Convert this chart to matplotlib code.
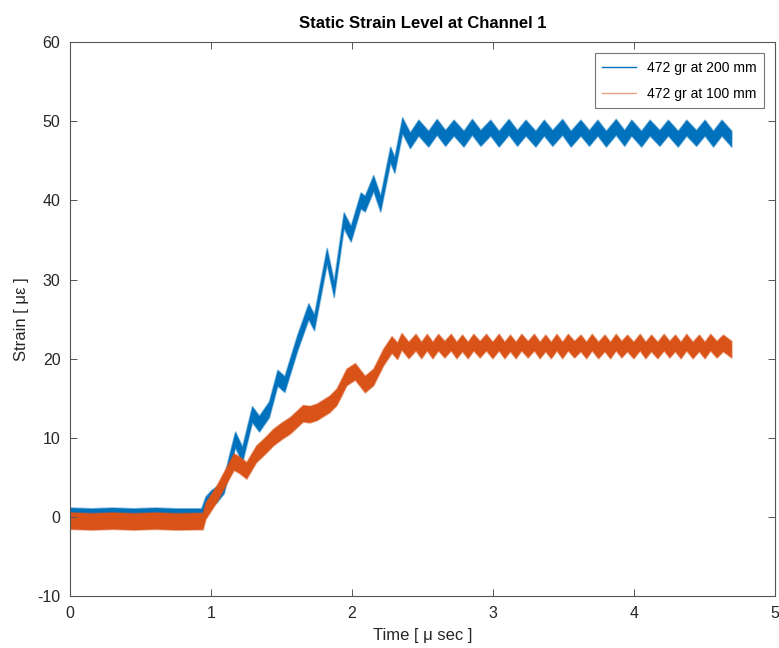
import matplotlib
matplotlib.use("Agg")
import matplotlib.pyplot as plt
from matplotlib.lines import Line2D
import numpy as np

plt.rcParams['font.family'] = ['Liberation Sans', 'DejaVu Sans']
plt.rcParams['axes.unicode_minus'] = False

# Strain traces (centre of the noisy signal) at the turning points, time in micro-seconds
t_200 = [0.00, 0.15, 0.30, 0.45, 0.60, 0.75, 0.93,
         0.96, 1.00, 1.04, 1.09, 1.13, 1.17, 1.22, 1.29, 1.34, 1.41, 1.47, 1.52, 1.61,
         1.69, 1.73, 1.82, 1.87, 1.94, 1.99, 2.06, 2.09, 2.15, 2.20, 2.27, 2.30, 2.355,
         2.41, 2.47, 2.54, 2.60, 2.66, 2.72, 2.79, 2.85, 2.91, 2.98, 3.04, 3.11, 3.17,
         3.23, 3.30, 3.36, 3.42, 3.49, 3.55, 3.62, 3.68, 3.74, 3.80, 3.87, 3.93, 3.98,
         4.05, 4.11, 4.18, 4.24, 4.31, 4.37, 4.44, 4.50, 4.56, 4.62, 4.69]
v_200 = [0.2, 0.1, 0.2, 0.1, 0.2, 0.1, 0.1,
         1.6, 2.4, 2.9, 4.0, 7.0, 9.8, 7.9, 13.0, 11.8, 13.6, 17.6, 16.8, 22.0,
         26.0, 24.6, 33.0, 28.8, 37.5, 35.8, 40.0, 39.6, 42.2, 39.6, 45.8, 44.5, 49.5,
         47.6, 49.2, 47.8, 49.3, 47.9, 49.2, 47.8, 49.3, 47.9, 49.2, 47.8, 49.3, 47.9,
         49.2, 47.8, 49.2, 47.9, 49.3, 47.8, 49.2, 47.9, 49.2, 47.8, 49.3, 47.9, 49.2,
         47.8, 49.2, 47.9, 49.2, 47.8, 49.2, 47.9, 49.2, 47.8, 49.2, 47.8]

t_100 = [0.00, 0.15, 0.30, 0.45, 0.60, 0.75, 0.94,
         0.96, 1.04, 1.10, 1.16, 1.20, 1.25, 1.32, 1.38, 1.44, 1.50, 1.56, 1.65, 1.70,
         1.75, 1.84, 1.89, 1.96, 2.02, 2.09, 2.15, 2.22, 2.28, 2.32, 2.35,
         2.40, 2.45, 2.49, 2.53, 2.57, 2.61, 2.655, 2.70, 2.74, 2.78, 2.82, 2.86, 2.905,
         2.95, 2.995, 3.04, 3.08, 3.12, 3.16, 3.20, 3.245, 3.29, 3.33, 3.37, 3.41, 3.45,
         3.49, 3.53, 3.575, 3.62, 3.66, 3.70, 3.745, 3.79, 3.83, 3.87, 3.91, 3.95, 3.995,
         4.04, 4.08, 4.12, 4.165, 4.21, 4.25, 4.29, 4.33, 4.37, 4.415, 4.46, 4.50, 4.54,
         4.585, 4.63, 4.69]
v_100 = [-0.45, -0.55, -0.45, -0.55, -0.45, -0.55, -0.5,
         0.8, 3.0, 5.0, 7.0, 6.6, 5.9, 8.0, 9.0, 10.1, 10.9, 11.6, 13.1, 13.0,
         13.3, 14.3, 15.2, 17.7, 18.4, 16.8, 17.7, 20.2, 21.8, 21.0, 22.2,
         21.1, 22.1, 21.1, 22.1, 21.1, 22.1, 21.2, 22.1, 21.1, 22.0, 21.1, 22.1, 21.2,
         22.1, 21.1, 22.1, 21.1, 22.0, 21.1, 22.1, 21.2, 22.1, 21.1, 22.0, 21.1, 22.1,
         21.1, 22.1, 21.2, 22.0, 21.1, 22.1, 21.1, 22.0, 21.1, 22.1, 21.2, 22.0, 21.1,
         22.1, 21.1, 22.0, 21.1, 22.1, 21.2, 22.0, 21.1, 22.1, 21.1, 22.0, 21.1, 22.1,
         21.2, 22.0, 21.2]

# half height of the measurement noise band
noise_200 = 1.0
noise_100 = 1.05

labels = ['472 gr at 200 mm', '472 gr at 100 mm']
blue = '#0072BD'
orange = '#D95319'

fig = plt.figure(figsize=(7.79, 6.48), dpi=100)
ax = fig.add_axes([0.090, 0.080, 0.905, 0.855])

t1, v1 = np.array(t_200), np.array(v_200)
t2, v2 = np.array(t_100), np.array(v_100)
ax.fill_between(t1, v1 - noise_200, v1 + noise_200, facecolor=blue,
                edgecolor=(0.0, 0.447, 0.741, 0.45), lw=1.2)
ax.fill_between(t2, v2 - noise_100, v2 + noise_100, facecolor=orange,
                edgecolor=(0.851, 0.325, 0.098, 0.45), lw=1.2)

ax.set_xlim(0, 5)
ax.set_ylim(-10, 60)
ax.set_xticks(range(0, 6))
ax.set_yticks(range(-10, 61, 10))
ax.tick_params(direction='in', length=5, width=0.7, colors='#555555',
               labelcolor='#262626', labelsize=11.5, top=True, right=True, pad=7)
for s in ax.spines.values():
    s.set_color('#555555')
    s.set_linewidth(0.8)

ax.set_xlabel('Time [ μ sec ]', fontsize=12, color='#262626', labelpad=5)
ax.set_ylabel('Strain [ με ]', fontsize=12, color='#262626', labelpad=6)
ax.set_title('Static Strain Level at Channel 1', fontsize=12, fontweight='bold', pad=10)

handles = [Line2D([], [], color=blue, lw=1),
           Line2D([], [], color=orange, lw=1, alpha=0.55)]
leg = ax.legend(handles, labels, loc='upper right', fontsize=10, frameon=True,
                fancybox=False, edgecolor='#555555', handlelength=2.4,
                labelspacing=0.85, borderpad=0.55, borderaxespad=0.8)
leg.get_frame().set_linewidth(0.8)

fig.savefig('out.png', dpi=100)
